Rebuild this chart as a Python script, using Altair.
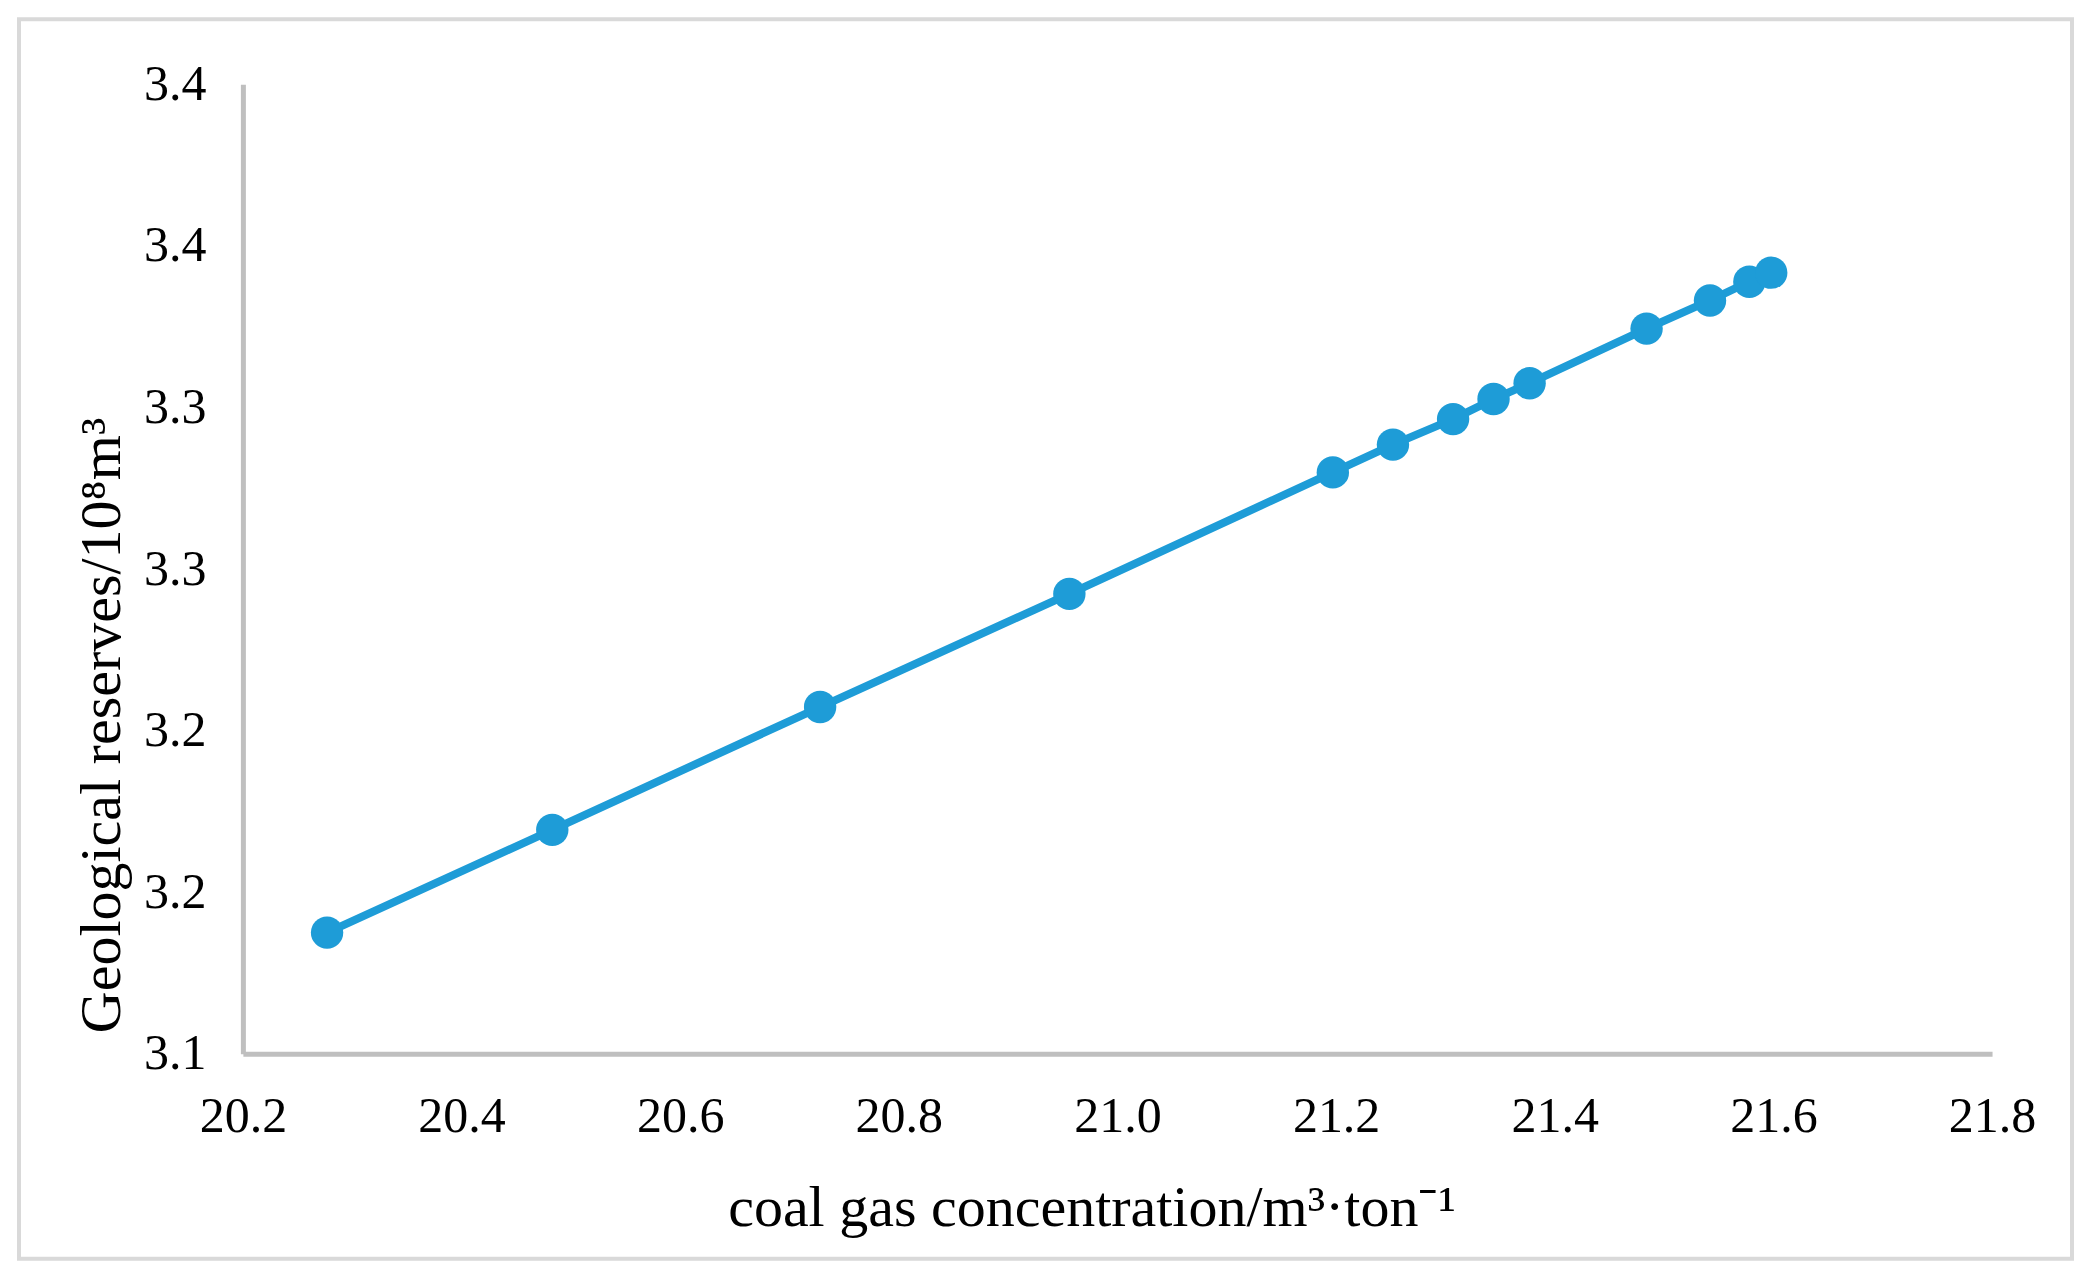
import altair as alt
import pandas as pd

# ---- data ----
x_vals = [20.277, 20.483, 20.728, 20.956, 21.197, 21.252, 21.307, 21.344, 21.377, 21.484, 21.542, 21.578, 21.598]
y_vals = [3.1375, 3.1693, 3.2073, 3.2423, 3.2799, 3.2885, 3.2964, 3.3026, 3.3075, 3.3244, 3.3331, 3.3389, 3.3417]

x_ticks = [20.2, 20.4, 20.6, 20.8, 21.0, 21.2, 21.4, 21.6, 21.8]
y_ticks = [3.10, 3.15, 3.20, 3.25, 3.30, 3.35, 3.40]
y_tick_labels = ["3.1", "3.2", "3.2", "3.3", "3.3", "3.4", "3.4"]

x_title = "coal gas concentration/m³·ton⁻¹"
y_title = "Geological reserves/10⁸m³"

COLOR = "#1e9cd7"
AXIS_GRAY = "#bfbfbf"
FONT = "Liberation Serif"

df = pd.DataFrame({"x": x_vals, "y": y_vals})

step = round(y_ticks[1] - y_ticks[0], 6)
ylabel_expr = "[" + ",".join(f"'{s}'" for s in y_tick_labels) + \
    f"][round((datum.value - {y_ticks[0]}) / {step})]"

common_axis = dict(
    domainColor=AXIS_GRAY,
    domainWidth=5,
    ticks=False,
    tickSize=0,
    grid=False,
    labelFlush=False,
    labelOverlap=False,
    labelFont=FONT,
    labelFontSize=50,
    labelColor="black",
    titleFont=FONT,
    titleFontSize=58,
    titleFontWeight="normal",
    titleColor="black",
)

x_enc = alt.X(
    "x:Q",
    scale=alt.Scale(domain=[20.2, 21.8], nice=False, zero=False),
    axis=alt.Axis(values=x_ticks, format=".1f", title=x_title,
                  labelPadding=38, titlePadding=38, titleX=849, **common_axis),
)
y_enc = alt.Y(
    "y:Q",
    scale=alt.Scale(domain=[3.10, 3.40], nice=False, zero=False),
    axis=alt.Axis(values=y_ticks, labelExpr=ylabel_expr, title=y_title,
                  labelPadding=37, titlePadding=12, titleY=641, **common_axis),
)

base = alt.Chart(df).encode(x=x_enc, y=y_enc)
line = base.mark_line(color=COLOR, strokeWidth=8)
pts = base.mark_circle(color=COLOR, size=1050, opacity=1)

border = alt.Chart(pd.DataFrame({"a": [0]})).mark_rect(
    fillOpacity=0, stroke="#d9d9d9", strokeWidth=4
).encode(
    x=alt.value(-224), x2=alt.value(1830), y=alt.value(-65), y2=alt.value(1175)
)

chart = alt.layer(border, line, pts).properties(
    width=1750,
    height=970,
    padding={"left": 9, "top": 9, "right": 9, "bottom": 9},
    background="white",
).configure_view(stroke="transparent")

chart.save("out.html", embed_options={"renderer": "svg", "actions": False})
